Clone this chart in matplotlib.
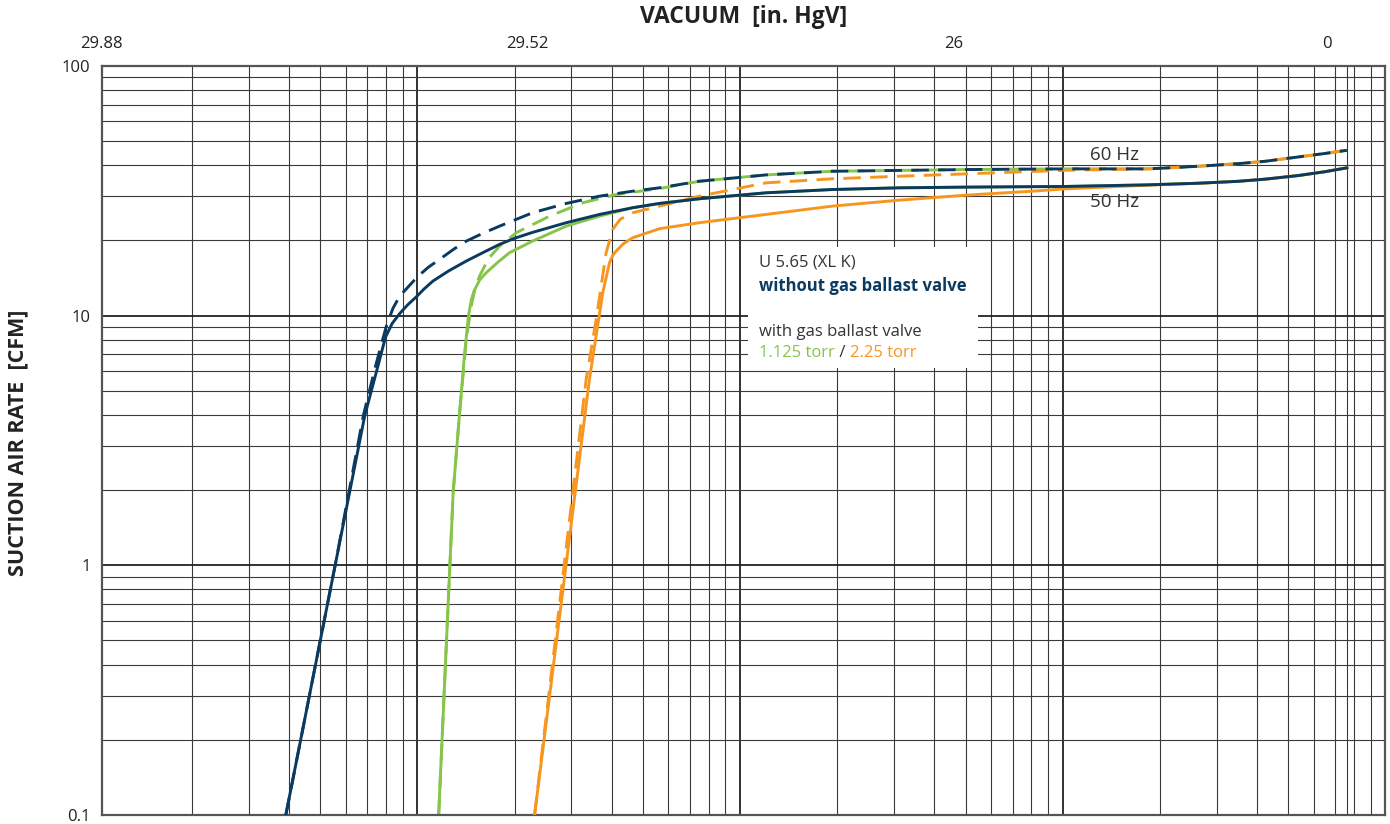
import matplotlib.pyplot as plt
import numpy as np
from matplotlib.patches import Rectangle
from matplotlib.ticker import LogLocator, NullFormatter

plt.rcParams['font.family'] = ['Open Sans', 'DejaVu Sans']

# absolute pressure [torr] vs suction rate [CFM]
# without gas ballast valve, 50 Hz
nav50_p = [0.391, 0.556, 0.687, 0.75, 0.796, 0.835, 0.882, 0.93, 0.993, 1.05, 1.118, 1.25,
           1.418, 1.6, 1.798, 2.0, 2.275, 2.893, 3.667, 4.641, 5.626, 7.48, 12.04, 19.31,
           31.1, 50.1, 102, 185, 264, 350, 425, 539, 650, 760]
nav50_q = [0.1, 1.0, 3.98, 6.1, 8.18, 9.3, 10.2, 11.0, 11.9, 12.8, 13.76, 15.1,
           16.54, 17.9, 19.29, 20.4, 21.54, 23.55, 25.42, 27.03, 28.13, 29.37, 31.03, 31.98,
           32.49, 32.7, 32.9, 33.4, 33.9, 34.5, 35.2, 36.4, 37.7, 39.06]
# without gas ballast valve, 60 Hz
nav60_p = [0.391, 0.556, 0.68, 0.74, 0.78, 0.802, 0.84, 0.882, 0.922, 1.0, 1.08, 1.172,
           1.3, 1.418, 1.6, 1.798, 2.275, 2.893, 3.667, 4.641, 5.626, 7.48, 12.04, 19.31,
           50.1, 102, 185, 264, 350, 425, 539, 650, 760]
nav60_q = [0.1, 1.0, 3.98, 6.2, 8.0, 9.10, 10.7, 11.99, 12.75, 14.3, 15.6, 16.80,
           18.5, 19.88, 21.4, 22.82, 25.82, 28.13, 30.08, 31.49, 32.49, 34.52, 36.6, 37.85,
           38.45, 38.7, 38.7, 39.64, 40.6, 41.51, 43.21, 44.6, 45.92]
# gas ballast 1.125 torr
grn50_p = [1.164, 1.291, 1.352, 1.40, 1.44, 1.47, 1.50, 1.56, 1.636, 1.78, 1.931, 2.275,
           2.893, 3.667, 4.641, 5.626, 7.48, 12.04, 19.31, 31.1, 50.1, 102, 185, 264, 350,
           425, 539, 650, 760]
grn50_q = [0.1, 1.965, 4.10, 7.0, 10.0, 11.6, 12.6, 13.9, 14.87, 16.4, 17.87, 19.88,
           22.82, 25.02, 27.03, 28.13, 29.37, 31.03, 31.98, 32.49, 32.7, 32.9, 33.4, 33.9,
           34.5, 35.2, 36.4, 37.7, 39.06]
grn60_p = [1.164, 1.291, 1.352, 1.418, 1.469, 1.51, 1.559, 1.66, 1.798, 2.025, 2.568,
           3.256, 4.13, 5.626, 7.48, 12.04, 19.31, 50.1, 102, 185, 264, 350, 425, 539, 650, 760]
grn60_q = [0.1, 1.965, 4.10, 8.05, 10.94, 12.9, 14.41, 16.9, 18.99, 21.48, 25.02,
           28.31, 30.55, 32.28, 34.52, 36.6, 37.85, 38.45, 38.7, 38.7, 39.64, 40.6, 41.51,
           43.21, 44.6, 45.92]
# gas ballast 2.25 torr
org50_p = [2.308, 3.415, 3.755, 3.94, 4.03, 4.13, 4.35, 4.652, 5.626, 7.48, 12.04, 19.31,
           31.13, 50.1, 80.4, 102, 185, 264, 350, 425, 539, 650, 760]
org50_q = [0.1, 5.57, 12.37, 16.30, 17.4, 18.14, 19.4, 20.51, 22.28, 23.55, 25.42, 27.44,
           28.99, 30.36, 31.49, 32.19, 33.3, 33.9, 34.5, 35.2, 36.4, 37.7, 39.1]
org60_p = [2.308, 3.336, 3.583, 3.846, 4.032, 4.25, 4.652, 5.626, 7.48, 12.04, 19.31,
           31.13, 50.1, 102, 185, 264, 350, 425, 539, 650, 760]
org60_q = [0.1, 5.57, 9.67, 17.87, 22.14, 24.3, 25.82, 27.44, 30.08, 34.02, 35.30,
           36.16, 36.95, 38.2, 38.7, 39.64, 40.6, 41.51, 43.21, 44.6, 45.92]

vac_tick_pos = [0.1051, 2.195, 46.1, 658]
vac_tick_lab = ['29.88', '29.52', '26', '0']
y_ticks = [0.1, 1, 10, 100]
y_tick_lab = ['0.1', '1', '10', '100']

navy = '#0b3a60'
green = '#86c44a'
orange = '#f7961f'
txt = '#333333'

fig = plt.figure(figsize=(13.9, 8.24), dpi=100)
ax = fig.add_axes([0.0732, 0.011, 0.9234, 0.909])
ax.set_xscale('log')
ax.set_yscale('log')
ax.set_xlim(0.1051, 1000)
ax.set_ylim(0.1, 100)
ax.set_axisbelow(True)

# log paper grid
ax.grid(True, axis='y', which='major', color='#222222', lw=1.3)
ax.grid(True, axis='y', which='minor', color='#3a3a3a', lw=0.8)
ax.xaxis.set_minor_locator(LogLocator(base=10, subs=np.arange(2, 10)))
ax.xaxis.set_minor_formatter(NullFormatter())
ax.grid(True, axis='x', which='minor', color='#3a3a3a', lw=0.8)
for d in [1, 10, 100]:
    ax.axvline(d, color='#222222', lw=1.3, zorder=0.5)
ax.axvline(760, color='#3a3a3a', lw=0.8, zorder=0.5)

ax.set_yticks(y_ticks, y_tick_lab)
ax.tick_params(axis='y', which='both', length=0, pad=8, labelsize=12, labelcolor='#222222')
ax.xaxis.tick_top()
ax.set_xticks(vac_tick_pos, vac_tick_lab)
ax.tick_params(axis='x', which='both', length=0, pad=10, labelsize=12, labelcolor='#222222')
for s in ax.spines.values():
    s.set_color('#555555')
    s.set_linewidth(1.6)

lw = 2.1
dash = (6, 3.2)
ax.plot(grn50_p, grn50_q, color=green, lw=lw, zorder=2)
ax.plot(grn60_p, grn60_q, color=green, lw=lw, dashes=dash, zorder=2)
ax.plot(org50_p, org50_q, color=orange, lw=lw, zorder=3)
ax.plot(org60_p, org60_q, color=orange, lw=lw, dashes=dash, zorder=3)
ax.plot(nav50_p, nav50_q, color=navy, lw=lw, zorder=4)
ax.plot(nav60_p, nav60_q, color=navy, lw=lw, dashes=dash, zorder=4)

# text box
ax.add_patch(Rectangle((0.5035, 0.5968), 0.1792, 0.1615, transform=ax.transAxes,
                       facecolor='white', edgecolor='none', zorder=1))
ax.text(0.512, 0.737, 'U 5.65 (XL K)', transform=ax.transAxes, fontsize=12,
        color=txt, va='center', zorder=5)
ax.text(0.512, 0.7063, 'without gas ballast valve', transform=ax.transAxes, fontsize=12,
        color=navy, fontweight='bold', va='center', zorder=5)
ax.text(0.512, 0.6448, 'with gas ballast valve', transform=ax.transAxes, fontsize=12,
        color=txt, va='center', zorder=5)
t1 = ax.text(0.512, 0.6168, '1.125 torr', transform=ax.transAxes, fontsize=12,
             color=green, va='center', zorder=5)
t2 = ax.annotate(' / ', xy=(1, 0), xycoords=t1, va='bottom', fontsize=12, color=txt, zorder=5)
ax.annotate('2.25 torr', xy=(1, 0), xycoords=t2, va='bottom', fontsize=12, color=orange, zorder=5)

ax.text(0.770, 0.8812, '60 Hz', transform=ax.transAxes, fontsize=13.5, color=txt, va='center')
ax.text(0.770, 0.8188, '50 Hz', transform=ax.transAxes, fontsize=13.5, color=txt, va='center')

fig.text(0.535, 0.979, 'VACUUM  [in. HgV]', ha='center', va='center',
         fontsize=16.5, fontweight='bold', color='#222222')
fig.text(0.013, 0.462, 'SUCTION AIR RATE  [CFM]', ha='center', va='center', rotation=90,
         fontsize=15.5, fontweight='bold', color='#222222')

fig.savefig('out.png', dpi=100)
